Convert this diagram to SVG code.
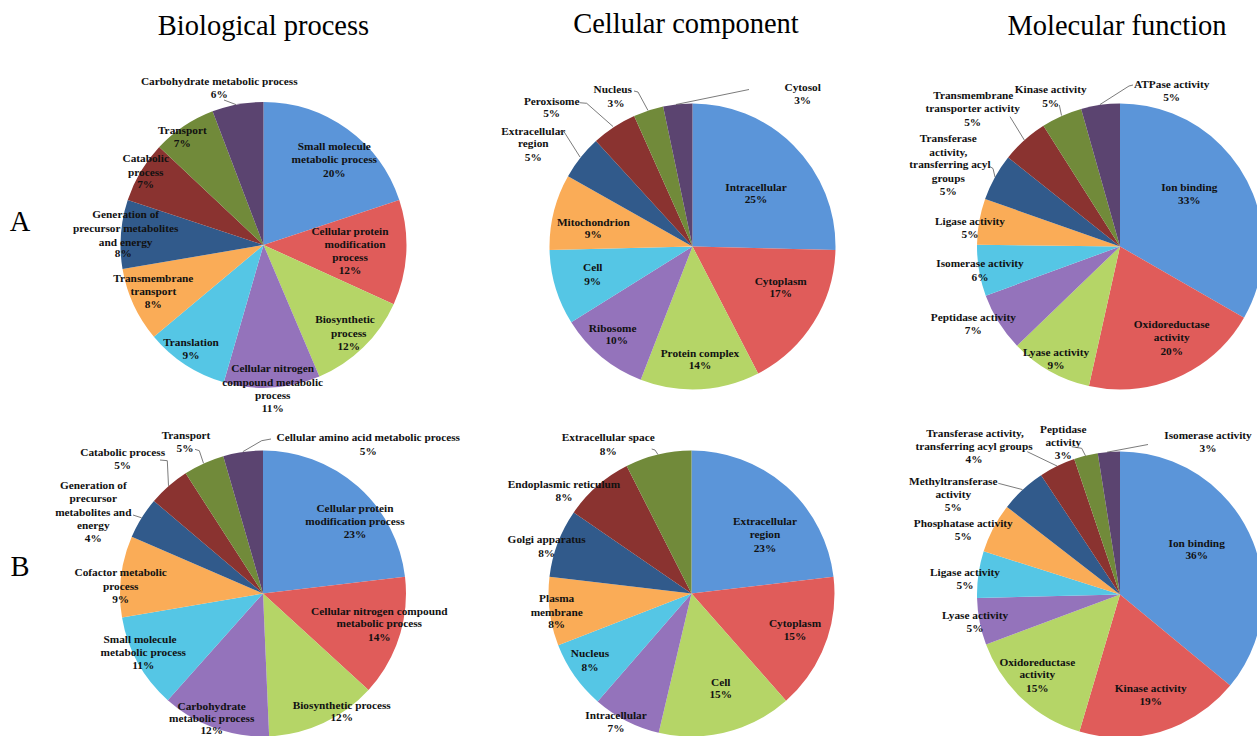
<svg xmlns="http://www.w3.org/2000/svg" width="1257" height="736" viewBox="0 0 1257 736">
<style>
.s{fill:none;stroke-width:143}
.c1{stroke:#5b95d9}.c2{stroke:#e05c5a}.c3{stroke:#b5d567}.c4{stroke:#9473bb}.c5{stroke:#55c6e5}
.c6{stroke:#faac57}.c7{stroke:#315a8b}.c8{stroke:#8a3330}.c9{stroke:#718a3a}.c10{stroke:#5b4470}
.t{font-family:"Liberation Serif","Times New Roman",serif;font-weight:bold;font-size:11.3px;text-anchor:middle;fill:#111}
.h{font-family:"Liberation Serif","Times New Roman",serif;font-size:28.5px;text-anchor:middle;fill:#000}
.ld{fill:none;stroke:#595959;stroke-width:0.8}
</style>
<rect width="1257" height="736" fill="#fff"/>
<g id="titles">
<text class="h" x="263.5" y="35">Biological process</text>
<text class="h" x="686" y="33">Cellular component</text>
<text class="h" x="1117" y="35">Molecular function</text>
<text class="h" x="20" y="231">A</text>
<text class="h" x="20" y="576">B</text>
</g>
<g id="pie-a-bp">
<g transform="rotate(-90 263.5 245)">
<circle class="s c1" cx="263.5" cy="245" r="71.5" pathLength="100" stroke-dasharray="19.9 100" stroke-dashoffset="0"/>
<circle class="s c2" cx="263.5" cy="245" r="71.5" pathLength="100" stroke-dasharray="11.9 100" stroke-dashoffset="-19.9"/>
<circle class="s c3" cx="263.5" cy="245" r="71.5" pathLength="100" stroke-dasharray="11.8 100" stroke-dashoffset="-31.8"/>
<circle class="s c4" cx="263.5" cy="245" r="71.5" pathLength="100" stroke-dasharray="10.9 100" stroke-dashoffset="-43.6"/>
<circle class="s c5" cx="263.5" cy="245" r="71.5" pathLength="100" stroke-dasharray="9.4 100" stroke-dashoffset="-54.5"/>
<circle class="s c6" cx="263.5" cy="245" r="71.5" pathLength="100" stroke-dasharray="8.4 100" stroke-dashoffset="-63.9"/>
<circle class="s c7" cx="263.5" cy="245" r="71.5" pathLength="100" stroke-dasharray="7.8 100" stroke-dashoffset="-72.3"/>
<circle class="s c8" cx="263.5" cy="245" r="71.5" pathLength="100" stroke-dasharray="6.9 100" stroke-dashoffset="-80.1"/>
<circle class="s c9" cx="263.5" cy="245" r="71.5" pathLength="100" stroke-dasharray="7.2 100" stroke-dashoffset="-87"/>
<circle class="s c10" cx="263.5" cy="245" r="71.5" pathLength="100" stroke-dasharray="5.8 100" stroke-dashoffset="-94.2"/>
</g>
<text class="t" x="219.3" y="84.7">Carbohydrate metabolic process</text><text class="t" x="219.3" y="98.3">6%</text>
<text class="t" x="334.3" y="150">Small molecule</text><text class="t" x="334.3" y="163.3">metabolic process</text><text class="t" x="334.3" y="176.7">20%</text>
<text class="t" x="350" y="234.7">Cellular protein</text><text class="t" x="355" y="248">modification</text><text class="t" x="350" y="261.3">process</text><text class="t" x="350" y="274">12%</text>
<text class="t" x="345" y="323.3">Biosynthetic</text><text class="t" x="348.7" y="336.7">process</text><text class="t" x="348.7" y="349.7">12%</text>
<text class="t" x="272.7" y="372.3">Cellular nitrogen</text><text class="t" x="272.7" y="385.7">compound metabolic</text><text class="t" x="272.7" y="399">process</text><text class="t" x="272.7" y="412.3">11%</text>
<text class="t" x="191" y="345.7">Translation</text><text class="t" x="191" y="359">9%</text>
<text class="t" x="153.3" y="282.3">Transmembrane</text><text class="t" x="153.3" y="294.7">transport</text><text class="t" x="153.3" y="308">8%</text>
<text class="t" x="125.7" y="218.3">Generation of</text><text class="t" x="125.7" y="231.7">precursor metabolites</text><text class="t" x="125.7" y="245.7">and energy</text><text class="t" x="123.3" y="257.3">8%</text>
<text class="t" x="145.7" y="162.3">Catabolic</text><text class="t" x="145.7" y="175.7">process</text><text class="t" x="145.7" y="188.3">7%</text>
<text class="t" x="182.3" y="134">Transport</text><text class="t" x="182.3" y="146.7">7%</text>
</g>
<g id="pie-a-cc">
<g transform="rotate(-90 692.5 246.5)">
<circle class="s c1" cx="692.5" cy="246.5" r="71.5" pathLength="100" stroke-dasharray="25.4 100" stroke-dashoffset="0"/>
<circle class="s c2" cx="692.5" cy="246.5" r="71.5" pathLength="100" stroke-dasharray="17 100" stroke-dashoffset="-25.4"/>
<circle class="s c3" cx="692.5" cy="246.5" r="71.5" pathLength="100" stroke-dasharray="13.5 100" stroke-dashoffset="-42.4"/>
<circle class="s c4" cx="692.5" cy="246.5" r="71.5" pathLength="100" stroke-dasharray="10.2 100" stroke-dashoffset="-55.9"/>
<circle class="s c5" cx="692.5" cy="246.5" r="71.5" pathLength="100" stroke-dasharray="8.5 100" stroke-dashoffset="-66.1"/>
<circle class="s c6" cx="692.5" cy="246.5" r="71.5" pathLength="100" stroke-dasharray="8.6 100" stroke-dashoffset="-74.6"/>
<circle class="s c7" cx="692.5" cy="246.5" r="71.5" pathLength="100" stroke-dasharray="5 100" stroke-dashoffset="-83.2"/>
<circle class="s c8" cx="692.5" cy="246.5" r="71.5" pathLength="100" stroke-dasharray="5.1 100" stroke-dashoffset="-88.2"/>
<circle class="s c9" cx="692.5" cy="246.5" r="71.5" pathLength="100" stroke-dasharray="3.4 100" stroke-dashoffset="-93.3"/>
<circle class="s c10" cx="692.5" cy="246.5" r="71.5" pathLength="100" stroke-dasharray="3.3 100" stroke-dashoffset="-96.7"/>
</g>
<text class="t" x="802.7" y="90.7">Cytosol</text><text class="t" x="802.7" y="104">3%</text>
<text class="t" x="612.7" y="93.3">Nucleus</text><text class="t" x="616" y="106.7">3%</text>
<text class="t" x="551.7" y="104.7">Peroxisome</text><text class="t" x="551.7" y="117.3">5%</text>
<text class="t" x="533.3" y="135">Extracellular</text><text class="t" x="533.3" y="147.3">region</text><text class="t" x="533.3" y="160.7">5%</text>
<text class="t" x="756" y="190.7">Intracellular</text><text class="t" x="756" y="203.3">25%</text>
<text class="t" x="780.7" y="284.7">Cytoplasm</text><text class="t" x="780.7" y="297.3">17%</text>
<text class="t" x="700" y="357.3">Protein complex</text><text class="t" x="700" y="369">14%</text>
<text class="t" x="612.7" y="331.7">Ribosome</text><text class="t" x="616.7" y="344">10%</text>
<text class="t" x="592.7" y="271.3">Cell</text><text class="t" x="592.7" y="284.7">9%</text>
<text class="t" x="593.3" y="225.7">Mitochondrion</text><text class="t" x="593.3" y="238.3">9%</text>
</g>
<g id="pie-a-mf">
<g transform="rotate(-90 1120 246.5)">
<circle class="s c1" cx="1120" cy="246.5" r="71.5" pathLength="100" stroke-dasharray="33.3 100" stroke-dashoffset="0"/>
<circle class="s c2" cx="1120" cy="246.5" r="71.5" pathLength="100" stroke-dasharray="20.2 100" stroke-dashoffset="-33.3"/>
<circle class="s c3" cx="1120" cy="246.5" r="71.5" pathLength="100" stroke-dasharray="9.3 100" stroke-dashoffset="-53.5"/>
<circle class="s c4" cx="1120" cy="246.5" r="71.5" pathLength="100" stroke-dasharray="6.6 100" stroke-dashoffset="-62.8"/>
<circle class="s c5" cx="1120" cy="246.5" r="71.5" pathLength="100" stroke-dasharray="5.8 100" stroke-dashoffset="-69.4"/>
<circle class="s c6" cx="1120" cy="246.5" r="71.5" pathLength="100" stroke-dasharray="5.2 100" stroke-dashoffset="-75.2"/>
<circle class="s c7" cx="1120" cy="246.5" r="71.5" pathLength="100" stroke-dasharray="5.3 100" stroke-dashoffset="-80.4"/>
<circle class="s c8" cx="1120" cy="246.5" r="71.5" pathLength="100" stroke-dasharray="5.3 100" stroke-dashoffset="-85.7"/>
<circle class="s c9" cx="1120" cy="246.5" r="71.5" pathLength="100" stroke-dasharray="4.6 100" stroke-dashoffset="-91"/>
<circle class="s c10" cx="1120" cy="246.5" r="71.5" pathLength="100" stroke-dasharray="4.4 100" stroke-dashoffset="-95.6"/>
</g>
<text class="t" x="1171.7" y="88">ATPase activity</text><text class="t" x="1171.7" y="100.7">5%</text>
<text class="t" x="1050.7" y="93.3">Kinase activity</text><text class="t" x="1050.7" y="106.7">5%</text>
<text class="t" x="973.3" y="99">Transmembrane</text><text class="t" x="972.7" y="112.3">transporter activity</text><text class="t" x="972.7" y="125.7">5%</text>
<text class="t" x="948.3" y="142.3">Transferase</text><text class="t" x="948.3" y="155.7">activity,</text><text class="t" x="950" y="168.3">transferring acyl</text><text class="t" x="948.3" y="181.7">groups</text><text class="t" x="948.3" y="195">5%</text>
<text class="t" x="1189.3" y="190.7">Ion binding</text><text class="t" x="1189.3" y="204">33%</text>
<text class="t" x="1171.7" y="328.3">Oxidoreductase</text><text class="t" x="1171.7" y="341.3">activity</text><text class="t" x="1171.7" y="354.7">20%</text>
<text class="t" x="1056" y="355.7">Lyase activity</text><text class="t" x="1056" y="369">9%</text>
<text class="t" x="973.3" y="321.3">Peptidase activity</text><text class="t" x="973.3" y="334">7%</text>
<text class="t" x="980" y="267.3">Isomerase activity</text><text class="t" x="980" y="280.7">6%</text>
<text class="t" x="970" y="224.7">Ligase activity</text><text class="t" x="970" y="238">5%</text>
</g>
<g id="pie-b-bp">
<g transform="rotate(-90 263 593.5)">
<circle class="s c1" cx="263" cy="593.5" r="71.5" pathLength="100" stroke-dasharray="23.1 100" stroke-dashoffset="0"/>
<circle class="s c2" cx="263" cy="593.5" r="71.5" pathLength="100" stroke-dasharray="13.7 100" stroke-dashoffset="-23.1"/>
<circle class="s c3" cx="263" cy="593.5" r="71.5" pathLength="100" stroke-dasharray="12.5 100" stroke-dashoffset="-36.8"/>
<circle class="s c4" cx="263" cy="593.5" r="71.5" pathLength="100" stroke-dasharray="12.3 100" stroke-dashoffset="-49.3"/>
<circle class="s c5" cx="263" cy="593.5" r="71.5" pathLength="100" stroke-dasharray="10.7 100" stroke-dashoffset="-61.6"/>
<circle class="s c6" cx="263" cy="593.5" r="71.5" pathLength="100" stroke-dasharray="9.2 100" stroke-dashoffset="-72.3"/>
<circle class="s c7" cx="263" cy="593.5" r="71.5" pathLength="100" stroke-dasharray="4.7 100" stroke-dashoffset="-81.5"/>
<circle class="s c8" cx="263" cy="593.5" r="71.5" pathLength="100" stroke-dasharray="4.7 100" stroke-dashoffset="-86.2"/>
<circle class="s c9" cx="263" cy="593.5" r="71.5" pathLength="100" stroke-dasharray="4.6 100" stroke-dashoffset="-90.9"/>
<circle class="s c10" cx="263" cy="593.5" r="71.5" pathLength="100" stroke-dasharray="4.5 100" stroke-dashoffset="-95.5"/>
</g>
<text class="t" x="368.3" y="441.3">Cellular amino acid metabolic process</text><text class="t" x="368.3" y="454.7">5%</text>
<text class="t" x="186" y="439">Transport</text><text class="t" x="185" y="452.3">5%</text>
<text class="t" x="122.7" y="455.7">Catabolic process</text><text class="t" x="122.7" y="469">5%</text>
<text class="t" x="93.3" y="489">Generation of</text><text class="t" x="93.3" y="502.3">precursor</text><text class="t" x="93.3" y="515.7">metabolites and</text><text class="t" x="93.3" y="529">energy</text><text class="t" x="93.3" y="542.3">4%</text>
<text class="t" x="355" y="512.3">Cellular protein</text><text class="t" x="355" y="525">modification process</text><text class="t" x="355" y="538">23%</text>
<text class="t" x="379.3" y="614.7">Cellular nitrogen compound</text><text class="t" x="379.3" y="627.3">metabolic process</text><text class="t" x="379.3" y="641.3">14%</text>
<text class="t" x="341.7" y="709">Biosynthetic process</text><text class="t" x="341.7" y="721.3">12%</text>
<text class="t" x="211.7" y="709.5">Carbohydrate</text><text class="t" x="211.7" y="721.5">metabolic process</text><text class="t" x="211.7" y="733.5">12%</text>
<text class="t" x="140" y="643">Small molecule</text><text class="t" x="143.3" y="655.7">metabolic process</text><text class="t" x="143.3" y="669">11%</text>
<text class="t" x="120.7" y="576.3">Cofactor metabolic</text><text class="t" x="120.7" y="589.7">process</text><text class="t" x="120.7" y="603">9%</text>
</g>
<g id="pie-b-cc">
<g transform="rotate(-90 691.5 593.5)">
<circle class="s c1" cx="691.5" cy="593.5" r="71.5" pathLength="100" stroke-dasharray="23.1 100" stroke-dashoffset="0"/>
<circle class="s c2" cx="691.5" cy="593.5" r="71.5" pathLength="100" stroke-dasharray="15.4 100" stroke-dashoffset="-23.1"/>
<circle class="s c3" cx="691.5" cy="593.5" r="71.5" pathLength="100" stroke-dasharray="15.2 100" stroke-dashoffset="-38.5"/>
<circle class="s c4" cx="691.5" cy="593.5" r="71.5" pathLength="100" stroke-dasharray="7.7 100" stroke-dashoffset="-53.7"/>
<circle class="s c5" cx="691.5" cy="593.5" r="71.5" pathLength="100" stroke-dasharray="7.7 100" stroke-dashoffset="-61.4"/>
<circle class="s c6" cx="691.5" cy="593.5" r="71.5" pathLength="100" stroke-dasharray="7.8 100" stroke-dashoffset="-69.1"/>
<circle class="s c7" cx="691.5" cy="593.5" r="71.5" pathLength="100" stroke-dasharray="7.7 100" stroke-dashoffset="-76.9"/>
<circle class="s c8" cx="691.5" cy="593.5" r="71.5" pathLength="100" stroke-dasharray="7.9 100" stroke-dashoffset="-84.6"/>
<circle class="s c9" cx="691.5" cy="593.5" r="71.5" pathLength="100" stroke-dasharray="7.5 100" stroke-dashoffset="-92.5"/>
</g>
<text class="t" x="608.3" y="441.3">Extracellular space</text><text class="t" x="608.3" y="454.7">8%</text>
<text class="t" x="564" y="488">Endoplasmic reticulum</text><text class="t" x="564" y="501.3">8%</text>
<text class="t" x="546.7" y="543.3">Golgi apparatus</text><text class="t" x="546.7" y="556.7">8%</text>
<text class="t" x="556.7" y="602.3">Plasma</text><text class="t" x="556.7" y="615.7">membrane</text><text class="t" x="556.7" y="628">8%</text>
<text class="t" x="590" y="657.3">Nucleus</text><text class="t" x="590" y="670.7">8%</text>
<text class="t" x="616" y="719">Intracellular</text><text class="t" x="616" y="732.3">7%</text>
<text class="t" x="720.7" y="685.7">Cell</text><text class="t" x="720.7" y="698">15%</text>
<text class="t" x="795" y="627.3">Cytoplasm</text><text class="t" x="795" y="640">15%</text>
<text class="t" x="765" y="525">Extracellular</text><text class="t" x="765" y="538.3">region</text><text class="t" x="765" y="551.7">23%</text>
</g>
<g id="pie-b-mf">
<g transform="rotate(-90 1120 594.5)">
<circle class="s c1" cx="1120" cy="594.5" r="71.5" pathLength="100" stroke-dasharray="36 100" stroke-dashoffset="0"/>
<circle class="s c2" cx="1120" cy="594.5" r="71.5" pathLength="100" stroke-dasharray="18.6 100" stroke-dashoffset="-36"/>
<circle class="s c3" cx="1120" cy="594.5" r="71.5" pathLength="100" stroke-dasharray="14.7 100" stroke-dashoffset="-54.6"/>
<circle class="s c4" cx="1120" cy="594.5" r="71.5" pathLength="100" stroke-dasharray="5.3 100" stroke-dashoffset="-69.3"/>
<circle class="s c5" cx="1120" cy="594.5" r="71.5" pathLength="100" stroke-dasharray="5.3 100" stroke-dashoffset="-74.6"/>
<circle class="s c6" cx="1120" cy="594.5" r="71.5" pathLength="100" stroke-dasharray="5.6 100" stroke-dashoffset="-79.9"/>
<circle class="s c7" cx="1120" cy="594.5" r="71.5" pathLength="100" stroke-dasharray="5.2 100" stroke-dashoffset="-85.5"/>
<circle class="s c8" cx="1120" cy="594.5" r="71.5" pathLength="100" stroke-dasharray="4.1 100" stroke-dashoffset="-90.7"/>
<circle class="s c9" cx="1120" cy="594.5" r="71.5" pathLength="100" stroke-dasharray="2.7 100" stroke-dashoffset="-94.8"/>
<circle class="s c10" cx="1120" cy="594.5" r="71.5" pathLength="100" stroke-dasharray="2.5 100" stroke-dashoffset="-97.5"/>
</g>
<text class="t" x="1208" y="439">Isomerase activity</text><text class="t" x="1208" y="452.3">3%</text>
<text class="t" x="1063.3" y="433">Peptidase</text><text class="t" x="1063.3" y="445.7">activity</text><text class="t" x="1063.3" y="459">3%</text>
<text class="t" x="975" y="437.3">Transferase activity,</text><text class="t" x="974" y="450">transferring acyl groups</text><text class="t" x="974" y="463">4%</text>
<text class="t" x="953.3" y="485">Methyltransferase</text><text class="t" x="953.3" y="498.3">activity</text><text class="t" x="953.3" y="510.7">5%</text>
<text class="t" x="963.3" y="527.3">Phosphatase activity</text><text class="t" x="963.3" y="540">5%</text>
<text class="t" x="965" y="575.7">Ligase activity</text><text class="t" x="965" y="589">5%</text>
<text class="t" x="975" y="619">Lyase activity</text><text class="t" x="975" y="631.7">5%</text>
<text class="t" x="1037.3" y="665.7">Oxidoreductase</text><text class="t" x="1037.3" y="678.3">activity</text><text class="t" x="1037.3" y="691.7">15%</text>
<text class="t" x="1150.7" y="691.7">Kinase activity</text><text class="t" x="1150.7" y="705">19%</text>
<text class="t" x="1196.7" y="546.7">Ion binding</text><text class="t" x="1196.7" y="559">36%</text>
</g>
<g id="connectors">
<polyline class="ld" points="224,100 236,104.6"/>
<polyline class="ld" points="749,89.5 676,104.5"/>
<polyline class="ld" points="634,91 638,92 648,110.5"/>
<polyline class="ld" points="579.5,102.7 586.7,103.3 613,126.5"/>
<polyline class="ld" points="560,131.7 564,131.7 580,157"/>
<polyline class="ld" points="1133,85 1129,86 1100,104.5"/>
<polyline class="ld" points="1059.3,105 1061.5,115.5"/>
<polyline class="ld" points="1010,116.7 1024.3,140"/>
<polyline class="ld" points="989,166 993,168.5 995,177"/>
<polyline class="ld" points="271,439 261.7,440.7 242.8,451.7"/>
<polyline class="ld" points="195,449.3 199.3,450.7 203.5,463.3"/>
<polyline class="ld" points="160,460 167.3,460.7 168.5,485.8"/>
<polyline class="ld" points="133,515 141.6,517.8"/>
<polyline class="ld" points="651.7,449 655,450 658,454.6"/>
<polyline class="ld" points="1148,444.5 1107,452.2"/>
<polyline class="ld" points="1071.7,446.7 1081.7,448.3 1085.5,455.8"/>
<polyline class="ld" points="1027.3,451.7 1057,466"/>
<polyline class="ld" points="998.3,483.3 1022.5,489.6"/>
</g>
</svg>
